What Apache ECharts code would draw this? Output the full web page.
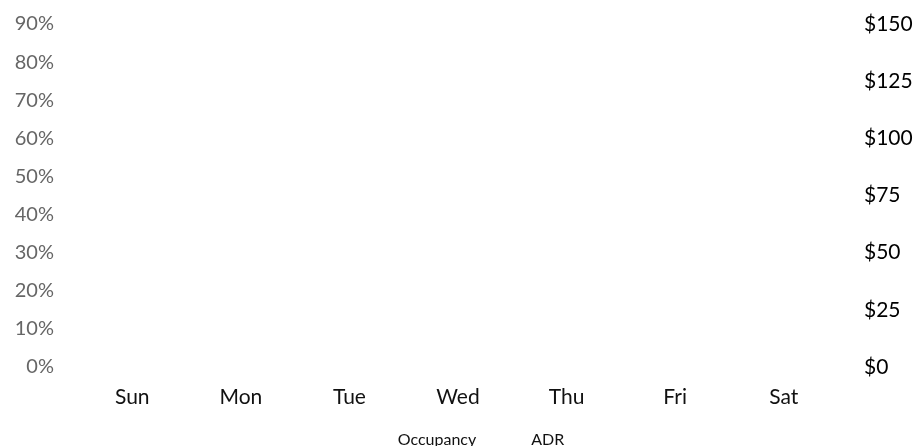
<!DOCTYPE html>
<html>
<head>
<meta charset="utf-8">
<script src="https://cdn.jsdelivr.net/npm/echarts@6/dist/echarts.min.js"></script>
<style>
  html, body { margin: 0; padding: 0; background: #ffffff; }
  #chart { width: 922px; height: 446px; }
</style>
</head>
<body>
<div id="chart"></div>
<script>
// Weekly hotel performance: occupancy (left axis) and average daily rate (right axis)
const days = ['Sun', 'Mon', 'Tue', 'Wed', 'Thu', 'Fri', 'Sat'];
const occupancy = [62, 42, 71, 69, 56, 58, 36];      // percent
const adr = [84, 92, 110, 108, 97, 98, 70];          // dollars
const occupancyTicks = { min: 0, max: 90, interval: 10 };
const adrTicks = { min: 0, max: 150, interval: 25 };

// The series are styled in white, so only axes and legend text show.
const markColor = '#ffffff';

const chart = echarts.init(document.getElementById('chart'), null, { renderer: 'canvas' });
chart.setOption({
  animation: false,
  backgroundColor: '#ffffff',
  grid: { left: 78, right: 84, top: 24, bottom: 79, containLabel: false },
  legend: {
    top: 427,
    left: 'center',
    itemWidth: 35,
    itemHeight: 10,
    itemGap: 14,
    data: ['Occupancy', 'ADR'],
    textStyle: { fontFamily: 'Lato', fontSize: 16, color: '#111111' },
    inactiveColor: '#ffffff'
  },
  xAxis: {
    type: 'category',
    data: days,
    axisLine: { show: false },
    axisTick: { show: false },
    axisLabel: { fontFamily: 'Lato', fontSize: 21, color: '#111111', margin: 20 }
  },
  yAxis: [
    {
      type: 'value',
      min: occupancyTicks.min,
      max: occupancyTicks.max,
      interval: occupancyTicks.interval,
      splitLine: { show: false },
      axisLine: { show: false },
      axisTick: { show: false },
      axisLabel: {
        formatter: v => v + '%',
        fontFamily: 'Lato', fontSize: 20, color: '#666666', margin: 24
      }
    },
    {
      type: 'value',
      min: adrTicks.min,
      max: adrTicks.max,
      interval: adrTicks.interval,
      alignTicks: false,
      splitLine: { show: false },
      axisLine: { show: false },
      axisTick: { show: false },
      axisLabel: {
        formatter: v => '$' + v,
        fontFamily: 'Lato', fontSize: 21, color: '#000000', margin: 26
      }
    }
  ],
  series: [
    {
      name: 'Occupancy',
      type: 'bar',
      yAxisIndex: 0,
      data: occupancy,
      barWidth: '45%',
      itemStyle: { color: markColor }
    },
    {
      name: 'ADR',
      type: 'line',
      yAxisIndex: 1,
      data: adr,
      symbol: 'none',
      lineStyle: { color: markColor, width: 2 },
      itemStyle: { color: markColor }
    }
  ]
});
</script>
</body>
</html>
